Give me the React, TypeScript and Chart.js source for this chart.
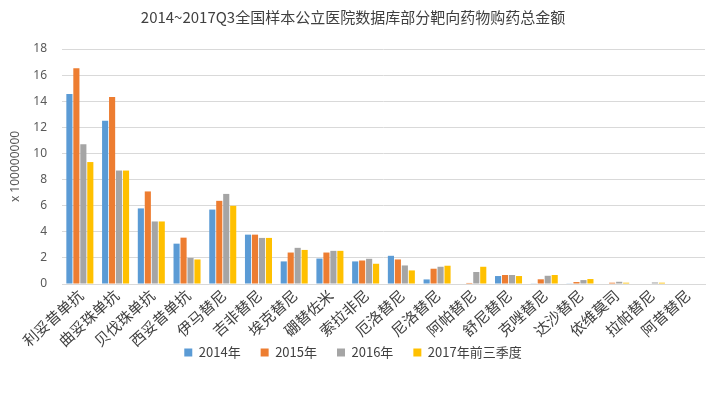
import React, { useEffect, useRef } from "react";
import { Chart, registerables } from "chart.js";

Chart.register(...registerables);

const categories = [
  "利妥昔单抗", "曲妥珠单抗", "贝伐珠单抗", "西妥昔单抗", "伊马替尼", "吉非替尼",
  "埃克替尼", "硼替佐米", "索拉非尼", "厄洛替尼", "尼洛替尼", "阿帕替尼",
  "舒尼替尼", "克唑替尼", "达沙替尼", "依维莫司", "拉帕替尼", "阿昔替尼",
];

const series2014 = [14.55, 12.5, 5.79, 3.09, 5.7, 3.78, 1.73, 1.95, 1.73, 2.16, 0.35, 0.0, 0.61, 0.05, 0.05, 0.04, 0.0, 0.0];
const series2015 = [16.53, 14.33, 7.09, 3.55, 6.37, 3.78, 2.41, 2.41, 1.8, 1.88, 1.17, 0.08, 0.69, 0.36, 0.15, 0.1, 0.04, 0.0];
const series2016 = [10.71, 8.69, 4.79, 2.0, 6.9, 3.53, 2.77, 2.54, 1.93, 1.42, 1.32, 0.92, 0.69, 0.63, 0.3, 0.17, 0.12, 0.0];
const series2017 = [9.34, 8.69, 4.79, 1.88, 5.99, 3.53, 2.61, 2.54, 1.55, 1.04, 1.4, 1.32, 0.61, 0.69, 0.38, 0.1, 0.1, 0.0];

const seriesNames = ["2014年", "2015年", "2016年", "2017年前三季度"];
const seriesColors = ["#5B9BD5", "#ED7D31", "#A5A5A5", "#FFC000"];
const yTicks = [0, 2, 4, 6, 8, 10, 12, 14, 16, 18];

const titleText = "2014~2017Q3全国样本公立医院数据库部分靶向药物购药总金额";
const yAxisTitle = "x 100000000";

const xLabelPlugin = {
  id: "rotatedXLabels",
  afterDraw(chart: any) {
    const xScale = chart.scales.x;
    const ctx = chart.ctx;
    ctx.save();
    ctx.font = "15px 'Noto Sans CJK SC', serif";
    ctx.fillStyle = "#404040";
    ctx.textAlign = "right";
    ctx.textBaseline = "middle";
    const angle = (-42 * Math.PI) / 180;
    const labels: string[] = chart.data.labels;
    labels.forEach((lab, i) => {
      const x = xScale.getPixelForTick(i);
      ctx.save();
      ctx.translate(x + 1, xScale.top + 9);
      ctx.rotate(angle);
      ctx.fillText(lab, 0, 0);
      ctx.restore();
    });
    ctx.restore();
  },
};

export default function App() {
  const canvasRef = useRef<HTMLCanvasElement | null>(null);

  useEffect(() => {
    document.body.style.margin = "0";
    const canvas = canvasRef.current;
    if (!canvas) return;
    const allSeries = [series2014, series2015, series2016, series2017];
    const chart = new Chart(canvas, {
      type: "bar",
      data: {
        labels: categories,
        datasets: allSeries.map((d, i) => ({
          label: seriesNames[i],
          data: d,
          backgroundColor: seriesColors[i],
          borderWidth: 0,
          categoryPercentage: 0.78,
          barPercentage: 0.88,
        })),
      },
      options: {
        responsive: false,
        animation: false,
        maintainAspectRatio: false,
        layout: { padding: { left: 1, right: 9, top: 4, bottom: 28 } },
        plugins: {
          title: {
            display: true,
            text: titleText,
            color: "#404040",
            font: { family: "'Noto Sans CJK SC', sans-serif", size: 15, weight: "normal" },
            padding: { top: 4, bottom: 23 },
          },
          legend: {
            position: "bottom",
            labels: {
              boxWidth: 8,
              boxHeight: 8,
              padding: 20,
              color: "#404040",
              font: { family: "'Noto Sans CJK SC', sans-serif", size: 13 },
            },
          },
          tooltip: { enabled: false },
        },
        scales: {
          x: {
            grid: { display: false, drawTicks: false },
            border: { display: true, color: "#D9D9D9" },
            afterFit: (scale: any) => {
              scale.height = 42;
            },
            ticks: { display: false, autoSkip: false },
          },
          y: {
            min: 0,
            max: 18,
            afterBuildTicks: (axis: any) => {
              axis.ticks = yTicks.map((v) => ({ value: v }));
            },
            afterFit: (scale: any) => {
              scale.width = 61;
            },
            grid: { color: "#D9D9D9", drawTicks: false },
            border: { display: false },
            ticks: {
              padding: 15,
              color: "#595959",
              font: { family: "'Noto Sans', sans-serif", size: 12 },
            },
            title: {
              display: true,
              text: yAxisTitle,
              color: "#595959",
              font: { family: "'Noto Sans', sans-serif", size: 12 },
              padding: { top: 7, bottom: 4 },
            },
          },
        },
      },
      plugins: [xLabelPlugin],
    });
    return () => chart.destroy();
  }, []);

  return (
    <div style={{ position: "absolute", left: 0, top: 0, width: 714, height: 397, background: "#fff" }}>
      <canvas ref={canvasRef} width={714} height={397} style={{ width: 714, height: 397 }} />
    </div>
  );
}
